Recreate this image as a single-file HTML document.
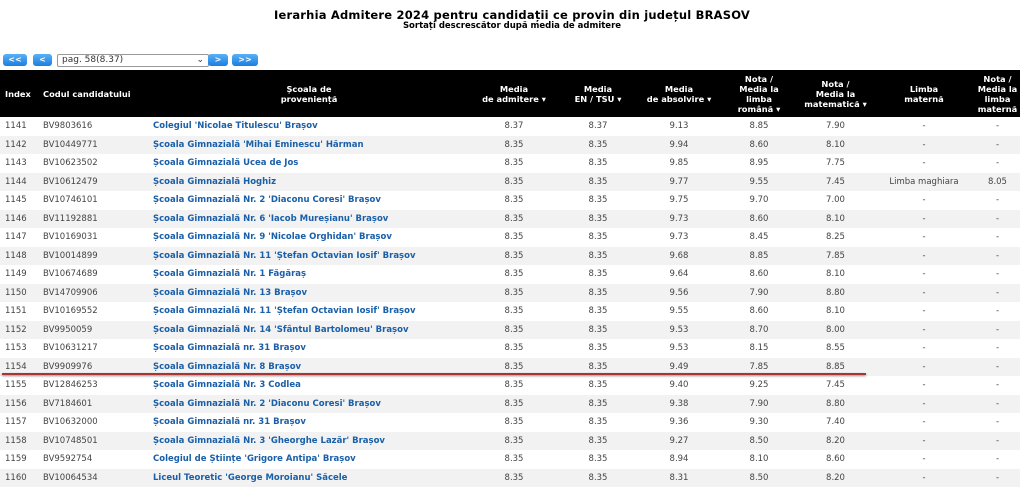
<!DOCTYPE html>
<html><head><meta charset="utf-8"><style>
body{margin:0;width:1024px;height:495px;background:#fff;font-family:Verdana,"DejaVu Sans",sans-serif;overflow:hidden;position:relative}
h1{position:absolute;top:8px;left:0;width:1024px;text-align:center;margin:0;font:bold 11.5px "DejaVu Sans",sans-serif;letter-spacing:0.2px}
.sub{position:absolute;top:21px;left:0;width:1024px;text-align:center;font:bold 8.5px "DejaVu Sans",sans-serif}
.btn{position:absolute;top:54px;height:12px;background:linear-gradient(#5ab0f5,#1b7fe0);border-radius:3px;color:#fff;font:bold 8px "DejaVu Sans",sans-serif;text-align:center;line-height:12px}
.sel{position:absolute;top:54px;left:57px;width:146px;height:11px;border:1px solid #999;border-radius:2px;font:9px "DejaVu Sans",sans-serif;line-height:11px;padding-left:4px;color:#333}
table{position:absolute;top:70px;left:0;width:1020px;border-collapse:collapse;table-layout:fixed;font-size:8.5px;font-family:"DejaVu Sans",sans-serif}
th{background:#000;color:#fff;font-weight:bold;height:47px;padding:0;line-height:10px;font-size:8.3px}
td{height:18.5px;padding:0;text-align:center;color:#444}
tr.g td{background:#f2f2f2}
td.l{text-align:left;padding-left:5px}
td.s{text-align:left;color:#1a5fa8;font-weight:bold;padding-left:5px}
.red{position:absolute;top:373px;left:2px;width:864px;height:2px;background:#a33;box-shadow:0 1px 2px #888}
</style></head><body>
<h1>Ierarhia Admitere 2024 pentru candidații ce provin din județul BRASOV</h1>
<div class="sub">Sortați descrescător după media de admitere</div>
<div class="btn" style="left:3px;width:24px">&lt;&lt;</div>
<div class="btn" style="left:33px;width:19px">&lt;</div>
<div class="sel">pag. 58(8.37)<span style="position:absolute;right:4px">⌄</span></div>
<div class="btn" style="left:208px;width:20px">&gt;</div>
<div class="btn" style="left:232px;width:26px">&gt;&gt;</div>
<table>
<colgroup><col style="width:38px"><col style="width:110px"><col style="width:322px"><col style="width:88px"><col style="width:80px"><col style="width:82px"><col style="width:78px"><col style="width:75px"><col style="width:102px"><col style="width:45px"></colgroup>
<tr><th style="text-align:left;padding-left:5px">Index</th><th style="text-align:left;padding-left:5px">Codul candidatului</th><th>Școala de<br>proveniență</th><th>Media<br>de admitere ▾</th><th>Media<br>EN / TSU ▾</th><th>Media<br>de absolvire ▾</th><th>Nota /<br>Media la<br>limba<br>română ▾</th><th>Nota /<br>Media la<br>matematică ▾</th><th>Limba<br>maternă</th><th>Nota /<br>Media la<br>limba<br>maternă</th></tr>
<tr><td class="l">1141</td><td class="l">BV9803616</td><td class="s">Colegiul 'Nicolae Titulescu' Brașov</td><td>8.37</td><td>8.37</td><td>9.13</td><td>8.85</td><td>7.90</td><td>-</td><td>-</td></tr>
<tr class="g"><td class="l">1142</td><td class="l">BV10449771</td><td class="s">Școala Gimnazială 'Mihai Eminescu' Hărman</td><td>8.35</td><td>8.35</td><td>9.94</td><td>8.60</td><td>8.10</td><td>-</td><td>-</td></tr>
<tr><td class="l">1143</td><td class="l">BV10623502</td><td class="s">Școala Gimnazială Ucea de Jos</td><td>8.35</td><td>8.35</td><td>9.85</td><td>8.95</td><td>7.75</td><td>-</td><td>-</td></tr>
<tr class="g"><td class="l">1144</td><td class="l">BV10612479</td><td class="s">Școala Gimnazială Hoghiz</td><td>8.35</td><td>8.35</td><td>9.77</td><td>9.55</td><td>7.45</td><td>Limba maghiara</td><td>8.05</td></tr>
<tr><td class="l">1145</td><td class="l">BV10746101</td><td class="s">Școala Gimnazială Nr. 2 'Diaconu Coresi' Brașov</td><td>8.35</td><td>8.35</td><td>9.75</td><td>9.70</td><td>7.00</td><td>-</td><td>-</td></tr>
<tr class="g"><td class="l">1146</td><td class="l">BV11192881</td><td class="s">Școala Gimnazială Nr. 6 'Iacob Mureșianu' Brașov</td><td>8.35</td><td>8.35</td><td>9.73</td><td>8.60</td><td>8.10</td><td>-</td><td>-</td></tr>
<tr><td class="l">1147</td><td class="l">BV10169031</td><td class="s">Școala Gimnazială Nr. 9 'Nicolae Orghidan' Brașov</td><td>8.35</td><td>8.35</td><td>9.73</td><td>8.45</td><td>8.25</td><td>-</td><td>-</td></tr>
<tr class="g"><td class="l">1148</td><td class="l">BV10014899</td><td class="s">Școala Gimnazială Nr. 11 'Ștefan Octavian Iosif' Brașov</td><td>8.35</td><td>8.35</td><td>9.68</td><td>8.85</td><td>7.85</td><td>-</td><td>-</td></tr>
<tr><td class="l">1149</td><td class="l">BV10674689</td><td class="s">Școala Gimnazială Nr. 1 Făgăraș</td><td>8.35</td><td>8.35</td><td>9.64</td><td>8.60</td><td>8.10</td><td>-</td><td>-</td></tr>
<tr class="g"><td class="l">1150</td><td class="l">BV14709906</td><td class="s">Școala Gimnazială Nr. 13 Brașov</td><td>8.35</td><td>8.35</td><td>9.56</td><td>7.90</td><td>8.80</td><td>-</td><td>-</td></tr>
<tr><td class="l">1151</td><td class="l">BV10169552</td><td class="s">Școala Gimnazială Nr. 11 'Ștefan Octavian Iosif' Brașov</td><td>8.35</td><td>8.35</td><td>9.55</td><td>8.60</td><td>8.10</td><td>-</td><td>-</td></tr>
<tr class="g"><td class="l">1152</td><td class="l">BV9950059</td><td class="s">Școala Gimnazială Nr. 14 'Sfântul Bartolomeu' Brașov</td><td>8.35</td><td>8.35</td><td>9.53</td><td>8.70</td><td>8.00</td><td>-</td><td>-</td></tr>
<tr><td class="l">1153</td><td class="l">BV10631217</td><td class="s">Școala Gimnazială nr. 31 Brașov</td><td>8.35</td><td>8.35</td><td>9.53</td><td>8.15</td><td>8.55</td><td>-</td><td>-</td></tr>
<tr class="g"><td class="l">1154</td><td class="l">BV9909976</td><td class="s">Școala Gimnazială Nr. 8 Brașov</td><td>8.35</td><td>8.35</td><td>9.49</td><td>7.85</td><td>8.85</td><td>-</td><td>-</td></tr>
<tr><td class="l">1155</td><td class="l">BV12846253</td><td class="s">Școala Gimnazială Nr. 3 Codlea</td><td>8.35</td><td>8.35</td><td>9.40</td><td>9.25</td><td>7.45</td><td>-</td><td>-</td></tr>
<tr class="g"><td class="l">1156</td><td class="l">BV7184601</td><td class="s">Școala Gimnazială Nr. 2 'Diaconu Coresi' Brașov</td><td>8.35</td><td>8.35</td><td>9.38</td><td>7.90</td><td>8.80</td><td>-</td><td>-</td></tr>
<tr><td class="l">1157</td><td class="l">BV10632000</td><td class="s">Școala Gimnazială nr. 31 Brașov</td><td>8.35</td><td>8.35</td><td>9.36</td><td>9.30</td><td>7.40</td><td>-</td><td>-</td></tr>
<tr class="g"><td class="l">1158</td><td class="l">BV10748501</td><td class="s">Școala Gimnazială Nr. 3 'Gheorghe Lazăr' Brașov</td><td>8.35</td><td>8.35</td><td>9.27</td><td>8.50</td><td>8.20</td><td>-</td><td>-</td></tr>
<tr><td class="l">1159</td><td class="l">BV9592754</td><td class="s">Colegiul de Științe 'Grigore Antipa' Brașov</td><td>8.35</td><td>8.35</td><td>8.94</td><td>8.10</td><td>8.60</td><td>-</td><td>-</td></tr>
<tr class="g"><td class="l">1160</td><td class="l">BV10064534</td><td class="s">Liceul Teoretic 'George Moroianu' Săcele</td><td>8.35</td><td>8.35</td><td>8.31</td><td>8.50</td><td>8.20</td><td>-</td><td>-</td></tr>
</table>
<div class="red"></div>
</body></html>
